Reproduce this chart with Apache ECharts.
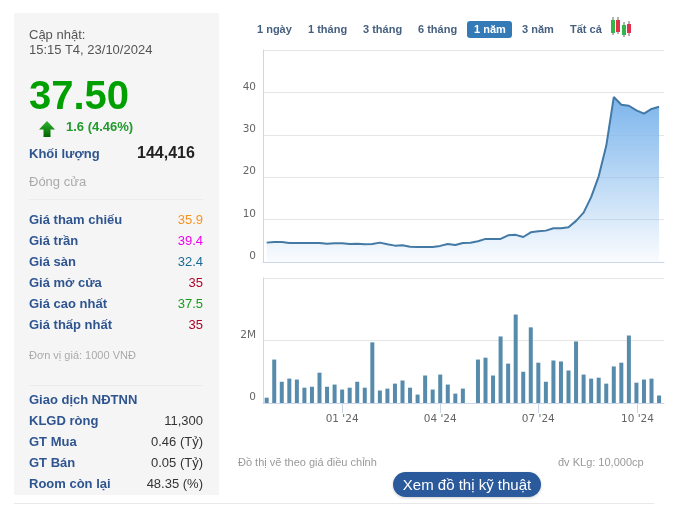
<!DOCTYPE html>
<html><head><meta charset="utf-8">
<script src="https://cdn.jsdelivr.net/npm/echarts@6/dist/echarts.min.js"></script>
<style>
html,body{margin:0;padding:0;background:#fff;overflow:hidden}
body{width:679px;height:508px;position:relative;font-family:"Liberation Sans",Arial,sans-serif}
#chart{position:absolute;left:0;top:0;width:679px;height:508px}
#panel{position:absolute;left:14px;top:13px;width:205px;height:482px;background:#f5f5f5}
.t{position:absolute;white-space:nowrap;line-height:16px}
.lab{left:29px;font-weight:bold;font-size:13px;color:#2f5590}
.val{right:476px;font-size:13px;text-align:right}
.rng{top:21px;font-weight:bold;font-size:11px;color:#46607f}
.hr{position:absolute;height:1px;background:#ececec}
</style></head><body>
<div id="panel"></div>
<div id="chart"></div>
<div id="overlay"></div>
<script>
const dates=["2023-10-23","2023-10-30","2023-11-06","2023-11-13","2023-11-20","2023-11-27","2023-12-04","2023-12-11","2023-12-18","2023-12-25","2024-01-01","2024-01-08","2024-01-15","2024-01-22","2024-01-29","2024-02-05","2024-02-12","2024-02-19","2024-02-26","2024-03-04","2024-03-11","2024-03-18","2024-03-25","2024-04-01","2024-04-08","2024-04-15","2024-04-22","2024-04-29","2024-05-06","2024-05-13","2024-05-20","2024-05-27","2024-06-03","2024-06-10","2024-06-17","2024-06-24","2024-07-01","2024-07-08","2024-07-15","2024-07-22","2024-07-29","2024-08-05","2024-08-12","2024-08-19","2024-08-26","2024-09-02","2024-09-09","2024-09-16","2024-09-23","2024-09-30","2024-10-07","2024-10-14","2024-10-21"];
const prices=[4.57,4.7,4.7,4.5,4.5,4.5,4.5,4.5,4.33,4.4,4.4,4.25,4.33,4.17,4.25,4.57,4.17,3.86,3.94,3.6,3.55,3.55,3.55,3.8,4.25,4.0,4.5,4.55,4.9,5.45,5.45,5.45,6.3,6.4,5.9,7.0,7.25,7.4,7.95,7.95,8.2,9.7,11.65,15.3,20.2,27.4,38.9,37.1,36.85,35.75,35.0,36.1,36.6];
const volumes=[0.17,1.39,0.68,0.78,0.75,0.49,0.52,0.97,0.52,0.59,0.43,0.49,0.68,0.49,1.94,0.40,0.46,0.62,0.72,0.49,0.27,0.88,0.43,0.91,0.59,0.30,0.46,0,1.39,1.45,0.88,2.13,1.26,2.83,1.0,2.42,1.29,0.68,1.36,1.33,1.04,1.97,0.91,0.78,0.81,0.62,1.17,1.29,2.16,0.65,0.75,0.78,0.24];
const tickDates=["2024-01-01","2024-04-01","2024-07-01","2024-10-01"];
const tickLabels=["01 '24","04 '24","07 '24","10 '24"];
const rangeLabels=["1 ngày","1 tháng","3 tháng","6 tháng","1 năm","3 năm","Tất cả"];
const quoteLabels=["Giá tham chiếu","Giá trần","Giá sàn","Giá mở cửa","Giá cao nhất","Giá thấp nhất"];
const quoteValues=["35.9","39.4","32.4","35","37.5","35"];
const foreignLabels=["KLGD ròng","GT Mua","GT Bán","Room còn lại"];
const foreignValues=["11,300","0.46 (Tỷ)","0.05 (Tỷ)","48.35 (%)"];

const ts=s=>new Date(s+"T00:00:00").getTime();
const tickTs=tickDates.map(ts);
const xMin=new Date("2023-10-19T14:00:00").getTime(), xMax=new Date("2024-10-25T14:00:00").getTime();
const priceData=dates.map((d,i)=>[ts(d),prices[i]]);
const volData=dates.map((d,i)=>[ts(d),volumes[i]*1e6]);
const lineC="#ccd6eb", gridC="#e6e6e6", labC="#666";
const font="DejaVu Sans";
const chart=echarts.init(document.getElementById("chart"),null,{renderer:"canvas"});
const xBase={type:"value",min:xMin,max:xMax,scale:true,splitLine:{show:false},axisLine:{show:true,onZero:false,lineStyle:{color:lineC}}};
chart.setOption({
 animation:false,
 grid:[{left:263,top:50,width:401,height:212,show:false},{left:263,top:278,width:401,height:125,show:false}],
 xAxis:[
  Object.assign({},xBase,{gridIndex:0,axisTick:{show:false},axisLabel:{show:false}}),
  Object.assign({},xBase,{gridIndex:1,
    axisTick:{show:true,length:10,lineStyle:{color:lineC},customValues:tickTs},
    axisLabel:{show:true,customValues:tickTs,color:labC,fontFamily:font,fontSize:10.5,margin:11,hideOverlap:false,
      formatter:v=>{const i=tickTs.indexOf(+v);return i>=0?tickLabels[i]:"";}}})
 ],
 yAxis:[
  {type:"value",gridIndex:0,min:0,max:50,interval:10,axisLine:{show:true,lineStyle:{color:lineC}},axisTick:{show:false},
   splitLine:{show:true,lineStyle:{color:gridC}},
   axisLabel:{color:labC,fontFamily:font,fontSize:10.5,margin:7,verticalAlign:"bottom",lineHeight:11,formatter:v=>v===50?"":String(v)}},
  {type:"value",gridIndex:1,min:0,max:4e6,interval:2e6,axisLine:{show:true,lineStyle:{color:lineC}},axisTick:{show:false},
   splitLine:{show:true,lineStyle:{color:gridC}},
   axisLabel:{color:labC,fontFamily:font,fontSize:10.5,margin:7,verticalAlign:"bottom",lineHeight:11,formatter:v=>v===0?"0":(v===2e6?"2M":"")}}
 ],
 series:[
  {type:"line",xAxisIndex:0,yAxisIndex:0,data:priceData,symbol:"none",smooth:false,
   lineStyle:{color:"#4379a5",width:2},
   areaStyle:{opacity:1,color:new echarts.graphic.LinearGradient(0,0,0,1,[{offset:0,color:"#7cb5ec"},{offset:1,color:"rgba(124,181,236,0.04)"}])}},
  {type:"bar",xAxisIndex:1,yAxisIndex:1,data:volData,barWidth:4,itemStyle:{color:"#568bab"}}
 ]
});

const ov=document.getElementById("overlay");
function add(cls,text,css){const d=document.createElement("div");d.className="t "+cls;d.textContent=text;d.style.cssText=css;ov.appendChild(d);return d;}
function hr(l,t,w,c){const d=document.createElement("div");d.className="hr";d.style.cssText=`left:${l}px;top:${t}px;width:${w}px;`+(c?`background:${c}`:"");ov.appendChild(d);}

add("","Cập nhật:","left:29px;top:27px;font-size:13px;color:#555");
add("","15:15 T4, 23/10/2024","left:29px;top:42px;font-size:13px;color:#555");
add("","37.50","left:29px;top:75px;font-size:40px;line-height:40px;font-weight:bold;color:#00a000");
add("","1.6 (4.46%)","left:66px;top:119px;font-size:13px;font-weight:bold;color:#229a2e");
add("lab","Khối lượng","top:146px");
add("","144,416","left:137px;top:145px;font-size:16px;font-weight:bold;color:#222");
add("","Đóng cửa","left:29px;top:174px;font-size:13px;color:#aaa");
hr(29,199,174);
const qColors=["#f7931e","#ee00ee","#1b6a96","#b0002a","#179a1a","#b0002a"];
quoteLabels.forEach((s,i)=>{const y=212+i*21;add("lab",s,`top:${y}px`);add("val",quoteValues[i],`top:${y}px;color:${qColors[i]}`);});
add("","Đơn vị giá: 1000 VNĐ","left:29px;top:347px;font-size:11px;color:#aaa");
hr(29,385,174);
add("lab","Giao dịch NĐTNN","top:392px");
foreignLabels.forEach((s,i)=>{const y=413+i*21;add("lab",s,`top:${y}px`);add("val",foreignValues[i],`top:${y}px;color:#333`);});

const rangeX=[257,308,363,418,474,522,570];
const act=document.createElement("div");act.style.cssText="position:absolute;left:467px;top:21px;width:45px;height:17px;background:#337ab7;border-radius:3px";ov.appendChild(act);
rangeLabels.forEach((s,i)=>add("rng",s,`left:${rangeX[i]}px;`+(i===4?"color:#fff":"")));

const ic=document.createElementNS("http://www.w3.org/2000/svg","svg");
ic.setAttribute("style","position:absolute;left:610px;top:16px");ic.setAttribute("width","24");ic.setAttribute("height","23");
ic.innerHTML='<path d="M3 1V19M8 1V18M14 6V21M19 5V20" stroke="#666" fill="none"/><rect x="1" y="4" width="4" height="13" fill="#35b44a"/><rect x="6" y="4" width="4" height="12" fill="#e0314a"/><rect x="12" y="9" width="4" height="10" fill="#35b44a"/><rect x="17" y="8" width="4" height="9" fill="#e0314a"/>';
ov.appendChild(ic);

add("","Đồ thị vẽ theo giá điều chỉnh","left:238px;top:454px;font-size:11px;color:#999");
add("","đv KLg: 10,000cp","left:558px;top:454px;font-size:11px;color:#999");
add("","Xem đồ thị kỹ thuật","left:393px;top:472px;width:148px;height:25px;line-height:25px;border-radius:13px;background:#2a5a9c;color:#fff;font-size:15px;text-align:center;box-shadow:0 1px 3px rgba(0,0,0,.2)");
hr(14,503,640,"#e8e8e8");

const ar=document.createElementNS("http://www.w3.org/2000/svg","svg");
ar.setAttribute("style","position:absolute;left:38px;top:120px");ar.setAttribute("width","18");ar.setAttribute("height","18");
ar.innerHTML='<defs><linearGradient id="g" x1="0" y1="0" x2="0" y2="1"><stop offset="0" stop-color="#2fb52f"/><stop offset="1" stop-color="#006400"/></linearGradient></defs><path d="M9 1L17 9.5H12.5V17H5.5V9.5H1Z" fill="url(#g)"/>';
ov.appendChild(ar);
</script>
</body></html>
